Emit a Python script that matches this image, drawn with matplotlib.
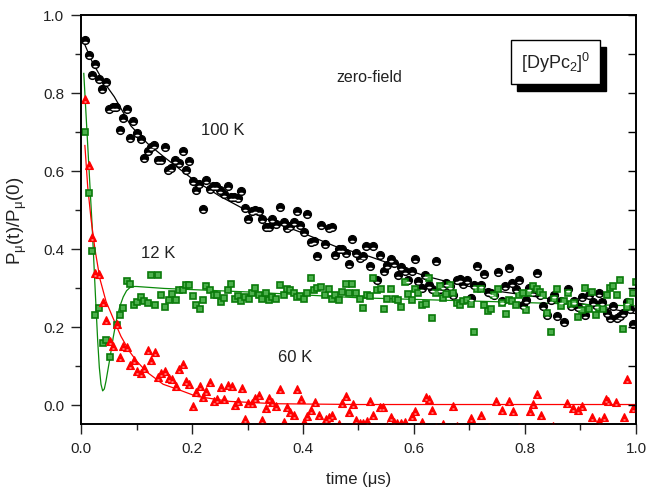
import matplotlib
matplotlib.use("Agg")
import matplotlib.pyplot as plt
from matplotlib.patches import Rectangle
from matplotlib.path import Path
from matplotlib.transforms import Affine2D
from matplotlib.ticker import MultipleLocator, FormatStrFormatter

plt.rcParams["font.family"] = ["Liberation Sans", "DejaVu Sans"]
plt.rcParams["mathtext.fontset"] = "custom"
plt.rcParams["mathtext.rm"] = "Liberation Sans"
plt.rcParams["mathtext.it"] = "Liberation Sans:italic"

# ---- 100 K (black circles) ----
t100 = [0.007, 0.014, 0.020, 0.026, 0.032, 0.038, 0.045, 0.051, 0.057, 0.063,
        0.070, 0.076, 0.082, 0.089, 0.094, 0.101, 0.108, 0.114, 0.120, 0.126,
        0.132, 0.138, 0.144, 0.151, 0.157, 0.163, 0.170, 0.176, 0.183, 0.189,
        0.195, 0.201, 0.207, 0.213, 0.220, 0.226, 0.232, 0.238, 0.244, 0.251,
        0.258, 0.264, 0.270, 0.276, 0.282, 0.289, 0.295, 0.301, 0.308, 0.314,
        0.320, 0.326, 0.333, 0.339, 0.345, 0.351, 0.358, 0.365, 0.371, 0.377,
        0.383, 0.389, 0.395, 0.402, 0.408, 0.414, 0.420, 0.426, 0.433, 0.439,
        0.446, 0.452, 0.458, 0.464, 0.470, 0.477, 0.483, 0.489, 0.495, 0.502,
        0.508, 0.514, 0.521, 0.527, 0.533, 0.539, 0.546, 0.552, 0.558, 0.564,
        0.571, 0.577, 0.583, 0.589, 0.596, 0.602, 0.608, 0.614, 0.620, 0.627,
        0.633, 0.640, 0.646, 0.652, 0.658, 0.664, 0.671, 0.677, 0.683, 0.689,
        0.695, 0.702, 0.708, 0.714, 0.721, 0.727, 0.733, 0.739, 0.745, 0.752,
        0.758, 0.764, 0.771, 0.777, 0.784, 0.790, 0.796, 0.802, 0.808, 0.815,
        0.821, 0.827, 0.833, 0.839, 0.846, 0.852, 0.858, 0.864, 0.871, 0.877,
        0.883, 0.889, 0.896, 0.902, 0.909, 0.915, 0.922, 0.928, 0.933, 0.939,
        0.947, 0.953, 0.959, 0.965, 0.971, 0.977, 0.983, 0.989, 0.995]
p100 = [0.936, 0.897, 0.846, 0.874, 0.836, 0.809, 0.827, 0.759, 0.763, 0.763,
        0.706, 0.736, 0.759, 0.685, 0.729, 0.697, 0.682, 0.632, 0.650, 0.660,
        0.665, 0.628, 0.627, 0.662, 0.603, 0.607, 0.628, 0.620, 0.650, 0.603,
        0.624, 0.575, 0.550, 0.567, 0.502, 0.577, 0.552, 0.560, 0.560, 0.551,
        0.541, 0.560, 0.532, 0.532, 0.530, 0.548, 0.504, 0.477, 0.496, 0.500,
        0.496, 0.475, 0.457, 0.457, 0.477, 0.464, 0.508, 0.468, 0.453, 0.458,
        0.468, 0.497, 0.460, 0.442, 0.488, 0.417, 0.421, 0.382, 0.462, 0.413,
        0.453, 0.455, 0.383, 0.398, 0.398, 0.389, 0.361, 0.425, 0.389, 0.377,
        0.382, 0.408, 0.355, 0.407, 0.319, 0.383, 0.342, 0.357, 0.373, 0.363,
        0.333, 0.352, 0.344, 0.319, 0.342, 0.373, 0.316, 0.299, 0.332, 0.308,
        0.296, 0.369, 0.296, 0.304, 0.313, 0.304, 0.280, 0.319, 0.323, 0.310,
        0.319, 0.274, 0.308, 0.355, 0.307, 0.336, 0.289, 0.285, 0.281, 0.340,
        0.266, 0.304, 0.351, 0.313, 0.297, 0.319, 0.256, 0.269, 0.300, 0.290,
        0.338, 0.280, 0.253, 0.229, 0.269, 0.282, 0.227, 0.265, 0.212, 0.297,
        0.253, 0.267, 0.250, 0.275, 0.231, 0.282, 0.262, 0.255, 0.287, 0.263,
        0.236, 0.221, 0.253, 0.221, 0.227, 0.236, 0.263, 0.245, 0.207]

# ---- 12 K (green squares) ----
t12 = [0.007, 0.014, 0.020, 0.026, 0.032, 0.039, 0.045, 0.052, 0.064, 0.070,
       0.076, 0.083, 0.089, 0.095, 0.101, 0.108, 0.114, 0.120, 0.126, 0.133,
       0.139, 0.145, 0.151, 0.158, 0.164, 0.171, 0.177, 0.183, 0.189, 0.195,
       0.202, 0.208, 0.214, 0.220, 0.226, 0.233, 0.239, 0.245, 0.252, 0.258,
       0.264, 0.270, 0.277, 0.283, 0.289, 0.296, 0.302, 0.308, 0.314, 0.320,
       0.327, 0.333, 0.339, 0.345, 0.352, 0.358, 0.365, 0.371, 0.377, 0.383,
       0.389, 0.395, 0.402, 0.408, 0.414, 0.420, 0.426, 0.433, 0.439, 0.446,
       0.452, 0.458, 0.464, 0.470, 0.477, 0.483, 0.489, 0.495, 0.502, 0.509,
       0.515, 0.521, 0.527, 0.533, 0.540, 0.546, 0.552, 0.558, 0.565, 0.571,
       0.577, 0.583, 0.590, 0.596, 0.602, 0.608, 0.614, 0.621, 0.627, 0.633,
       0.640, 0.646, 0.652, 0.658, 0.664, 0.671, 0.677, 0.683, 0.689, 0.695,
       0.702, 0.708, 0.714, 0.721, 0.727, 0.733, 0.739, 0.745, 0.752, 0.758,
       0.765, 0.771, 0.777, 0.784, 0.790, 0.796, 0.802, 0.808, 0.815, 0.821,
       0.827, 0.833, 0.840, 0.846, 0.852, 0.858, 0.864, 0.871, 0.877, 0.883,
       0.889, 0.896, 0.902, 0.909, 0.915, 0.921, 0.928, 0.934, 0.940, 0.947,
       0.953, 0.959, 0.965, 0.971, 0.977, 0.983, 0.990, 0.995, 1.000]
p12 = [0.699, 0.544, 0.393, 0.229, 0.248, 0.159, 0.165, 0.122, 0.205, 0.231,
       0.248, 0.316, 0.309, 0.255, 0.264, 0.277, 0.267, 0.261, 0.333, 0.256,
       0.332, 0.280, 0.250, 0.268, 0.284, 0.268, 0.293, 0.295, 0.307, 0.307,
       0.278, 0.256, 0.244, 0.268, 0.304, 0.293, 0.282, 0.281, 0.263, 0.274,
       0.293, 0.310, 0.270, 0.278, 0.265, 0.275, 0.270, 0.287, 0.299, 0.280,
       0.272, 0.287, 0.268, 0.276, 0.270, 0.307, 0.281, 0.296, 0.293, 0.285,
       0.275, 0.278, 0.270, 0.285, 0.326, 0.295, 0.299, 0.302, 0.280, 0.297,
       0.270, 0.282, 0.268, 0.290, 0.309, 0.286, 0.309, 0.287, 0.270, 0.249,
       0.282, 0.278, 0.325, 0.295, 0.297, 0.244, 0.270, 0.297, 0.270, 0.269,
       0.250, 0.315, 0.283, 0.268, 0.297, 0.287, 0.256, 0.259, 0.325, 0.222,
       0.285, 0.304, 0.274, 0.283, 0.307, 0.287, 0.261, 0.256, 0.265, 0.268,
       0.259, 0.186, 0.297, 0.296, 0.256, 0.239, 0.244, 0.281, 0.297, 0.261,
       0.232, 0.268, 0.266, 0.256, 0.281, 0.285, 0.242, 0.286, 0.304, 0.296,
       0.290, 0.280, 0.235, 0.186, 0.270, 0.296, 0.253, 0.266, 0.286, 0.259,
       0.261, 0.225, 0.242, 0.299, 0.246, 0.290, 0.231, 0.248, 0.246, 0.282,
       0.299, 0.303, 0.282, 0.319, 0.195, 0.250, 0.263, 0.287, 0.315]

# ---- 60 K (red triangles) ----
t60 = [0.007, 0.014, 0.020, 0.026, 0.032, 0.039, 0.045, 0.052, 0.058, 0.064,
       0.070, 0.076, 0.083, 0.089, 0.095, 0.101, 0.108, 0.114, 0.120, 0.126,
       0.133, 0.139, 0.145, 0.151, 0.158, 0.164, 0.171, 0.177, 0.183, 0.189,
       0.195, 0.202, 0.208, 0.214, 0.220, 0.226, 0.233, 0.239, 0.245, 0.252,
       0.258, 0.264, 0.272, 0.277, 0.283, 0.290, 0.296, 0.301, 0.308, 0.314,
       0.320, 0.327, 0.333, 0.339, 0.345, 0.351, 0.359, 0.365, 0.371, 0.377,
       0.383, 0.390, 0.396, 0.402, 0.408, 0.414, 0.422, 0.428, 0.435, 0.441,
       0.447, 0.453, 0.459, 0.465, 0.471, 0.477, 0.483, 0.490, 0.496, 0.502,
       0.508, 0.515, 0.521, 0.527, 0.533, 0.539, 0.545, 0.552, 0.558, 0.564,
       0.570, 0.577, 0.583, 0.589, 0.596, 0.602, 0.608, 0.614, 0.621, 0.627,
       0.633, 0.640, 0.646, 0.652, 0.658, 0.670, 0.677, 0.690, 0.702, 0.710,
       0.721, 0.735, 0.747, 0.758, 0.771, 0.778, 0.790, 0.809, 0.815, 0.821,
       0.828, 0.840, 0.850, 0.876, 0.887, 0.895, 0.902, 0.920, 0.933, 0.942,
       0.946, 0.950, 0.964, 0.978, 0.983, 0.994]
p60 = [0.785, 0.615, 0.430, 0.338, 0.336, 0.262, 0.216, 0.162, 0.150, 0.207,
       0.122, 0.150, 0.148, 0.101, 0.114, 0.086, 0.081, 0.095, 0.141, 0.114,
       0.135, 0.070, 0.082, 0.085, 0.068, 0.065, 0.048, 0.090, 0.103, 0.061,
       0.052, -0.004, 0.031, 0.048, 0.020, 0.035, 0.058, 0.009, 0.014, 0.044,
       0.015, 0.051, 0.048, 0.000, 0.009, 0.043, -0.038, 0.003, 0.005, 0.017,
       0.024, -0.040, -0.010, 0.017, 0.007, -0.003, 0.041, -0.046, -0.007, -0.019,
       -0.027, 0.041, 0.015, -0.046, -0.030, -0.013, 0.007, -0.026, -0.060, -0.038,
       -0.032, -0.027, -0.058, -0.050, 0.003, 0.021, -0.019, 0.002, -0.040, -0.047,
       -0.047, -0.043, 0.008, -0.026, -0.060, -0.006, -0.006, -0.055, -0.032, -0.045,
       -0.047, -0.047, -0.045, -0.060, -0.029, -0.017, -0.058, -0.046, 0.020, 0.015,
       -0.013, -0.058, -0.060, -0.050, -0.062, -0.003, -0.055, -0.060, -0.034, -0.060,
       -0.026, -0.058, 0.010, -0.013, 0.010, -0.016, -0.058, -0.016, 0.002, 0.027,
       -0.026, -0.060, -0.056, 0.003, -0.009, -0.013, -0.005, -0.031, -0.043, -0.031,
       0.013, 0.009, 0.006, -0.033, 0.065, -0.010]

# ---- fit curves ----
fit100_t = [0.005, 0.02, 0.04, 0.06, 0.09, 0.12, 0.15, 0.20, 0.25, 0.30, 0.35,
            0.40, 0.46, 0.52, 0.56, 0.62, 0.68, 0.74, 0.80, 0.875, 0.94, 1.0]
fit100_p = [0.93, 0.88, 0.83, 0.79, 0.715, 0.67, 0.635, 0.58, 0.535, 0.497, 0.467,
            0.44, 0.405, 0.38, 0.36, 0.33, 0.308, 0.293, 0.281, 0.265, 0.25, 0.233]

fit12_t = [0.005, 0.010, 0.015, 0.020, 0.026, 0.030, 0.033, 0.036, 0.039, 0.042,
           0.045, 0.048, 0.052, 0.058, 0.064, 0.070, 0.076, 0.082, 0.088, 0.094,
           0.10, 0.15, 0.30, 0.50, 0.77, 1.0]
fit12_p = [0.85, 0.72, 0.59, 0.46, 0.28, 0.165, 0.095, 0.052, 0.035, 0.040,
           0.060, 0.085, 0.118, 0.172, 0.218, 0.252, 0.276, 0.292, 0.300, 0.303,
           0.303, 0.298, 0.289, 0.274, 0.263, 0.253]

fit60_t = [0.007, 0.012, 0.018, 0.025, 0.034, 0.045, 0.058, 0.072, 0.088, 0.10,
           0.118, 0.148, 0.178, 0.208, 0.268, 0.35, 0.50, 1.0]
fit60_p = [0.665, 0.56, 0.477, 0.40, 0.323, 0.265, 0.221, 0.175, 0.135, 0.112,
           0.084, 0.052, 0.037, 0.021, 0.008, 0.002, 0.0, 0.0]

C_BLK = "black"
C_GRN = "#0a8a0a"
C_RED = "#ff0000"
C_TXT = "#222222"

# white highlight in the lower part of a marker; the lone MOVETOs at (0, +-1)
# keep the marker scale equal to the full symbol
_anchor = Path([[0, 1], [0, -1]], [Path.MOVETO, Path.MOVETO])
CRESCENT = Path.make_compound_path(
    _anchor,
    Path.unit_circle().transformed(Affine2D().scale(0.55, 0.22).translate(0, -0.52)),
)
TRI_BAR = Path.make_compound_path(
    _anchor,
    Path([[-0.36, -0.72], [0.36, -0.72], [0.36, -0.5], [-0.36, -0.5], [-0.36, -0.72]],
         closed=True),
)

fig = plt.figure(figsize=(6.46, 4.89), dpi=100)
ax = fig.add_axes([0.1254, 0.1309, 0.8591, 0.8364])

# fits
ax.plot(fit100_t, fit100_p, color=C_BLK, lw=0.9, zorder=3)
ax.plot(fit12_t, fit12_p, color=C_GRN, lw=0.9, zorder=3)
ax.plot(fit60_t, fit60_p, color=C_RED, lw=0.9, zorder=3)

# data
ax.plot(t100, p100, ls="none", marker="o", ms=5.8, mfc=C_BLK, mec=C_BLK,
        mew=0.8, zorder=4)
ax.plot(t100, p100, ls="none", marker=CRESCENT, ms=5.8, mfc="white",
        mec="none", zorder=5)
ax.plot(t12, p12, ls="none", marker="s", ms=4.0, mfc="#4cb04c",
        mec="#0a7a0a", mew=1.2, zorder=4)
ax.plot(t60, p60, ls="none", marker="^", ms=5.8, mfc=C_RED, mec=C_RED,
        mew=0.8, zorder=4)
ax.plot(t60, p60, ls="none", marker=TRI_BAR, ms=5.8, mfc="#ffe0e0",
        mec="none", zorder=5)

ax.set_xlim(0, 1.0)
ax.set_ylim(-0.05, 1.0)
ax.xaxis.set_major_locator(MultipleLocator(0.2))
ax.xaxis.set_minor_locator(MultipleLocator(0.1))
ax.yaxis.set_major_locator(MultipleLocator(0.2))
ax.yaxis.set_minor_locator(MultipleLocator(0.1))
ax.xaxis.set_major_formatter(FormatStrFormatter("%.1f"))
ax.yaxis.set_major_formatter(FormatStrFormatter("%.1f"))
ax.tick_params(which="both", direction="out", top=False, right=False,
               labelsize=11, colors=C_TXT, width=1.0)
ax.tick_params(which="major", length=7)
ax.tick_params(which="minor", length=4)
ax.tick_params(axis="both", pad=5)
for sp in ax.spines.values():
    sp.set_linewidth(1.2)

# inward ticks on the right spine
axr = ax.twinx()
axr.set_ylim(ax.get_ylim())
axr.yaxis.set_major_locator(MultipleLocator(0.1))
axr.tick_params(axis="y", direction="in", length=6, width=1.0, labelright=False)
for sp in axr.spines.values():
    sp.set_linewidth(1.2)

ax.set_xlabel("time (μs)", fontsize=12, color=C_TXT, labelpad=12)
ax.set_ylabel("P$_{\\mathrm{μ}}$(t)/P$_{\\mathrm{μ}}$(0)", fontsize=13.5,
              color=C_TXT, labelpad=10)

ax.text(0.519, 0.841, "zero-field", fontsize=11.5, ha="center", va="center",
        color=C_TXT)
ax.text(0.256, 0.705, "100 K", fontsize=12, ha="center", va="center",
        color=C_TXT)
ax.text(0.139, 0.39, "12 K", fontsize=12, ha="center", va="center",
        color=C_TXT)
ax.text(0.386, 0.123, "60 K", fontsize=12, ha="center", va="center",
        color=C_TXT)

# framed label with drop shadow
ax.add_patch(Rectangle((0.786, 0.814), 0.16, 0.108, transform=ax.transAxes,
                       facecolor="black", edgecolor="black", zorder=6,
                       clip_on=False))
ax.add_patch(Rectangle((0.775, 0.831), 0.16, 0.108, transform=ax.transAxes,
                       facecolor="white", edgecolor="black", lw=1.0, zorder=7,
                       clip_on=False))
ax.text(0.855, 0.885, "[DyPc$_2$]$^0$", transform=ax.transAxes, fontsize=13,
        ha="center", va="center", color=C_TXT, zorder=8)

fig.savefig("out.png", dpi=100)
